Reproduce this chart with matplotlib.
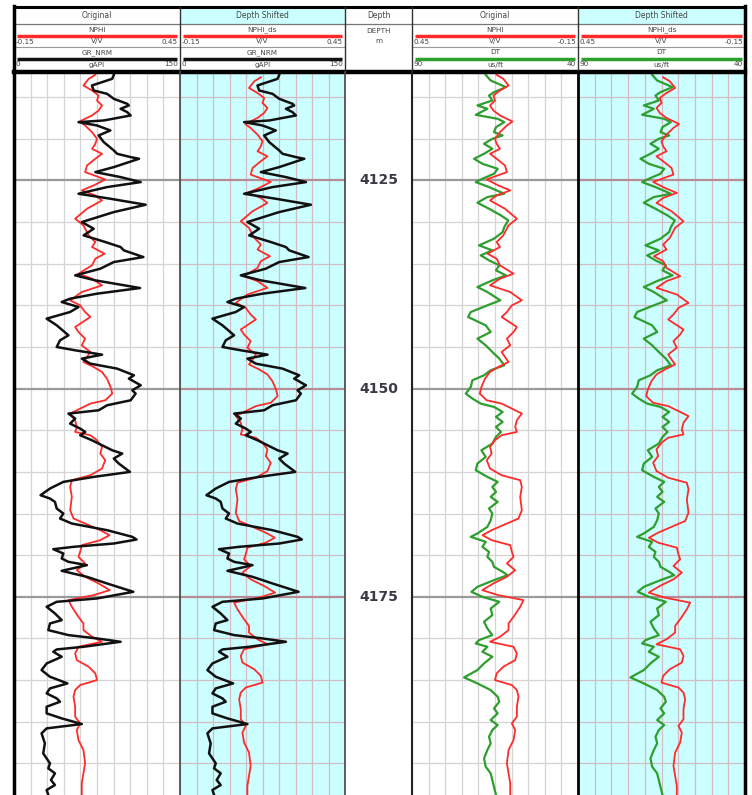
import matplotlib
matplotlib.use("Agg")
import matplotlib.pyplot as plt
from matplotlib.patches import Rectangle
import numpy as np

# Gamma ray (gAPI)
gr_depth = [4112.32, 4112.8, 4113.6, 4114.2, 4114.6, 4115.2, 4115.8, 4116.0, 4116.4, 4116.8,
            4117.2, 4117.8, 4118.0, 4118.4, 4119.0, 4119.6, 4120.4, 4121.4, 4121.8, 4122.2,
            4122.4, 4123.4, 4124.0, 4124.6, 4125.2, 4125.8, 4126.6, 4127.2, 4127.92, 4128.8,
            4130.0, 4130.8, 4131.6, 4132.4, 4133.0, 4133.4, 4134.2, 4134.8, 4135.6, 4136.4,
            4137.0, 4137.92, 4138.6, 4139.2, 4139.6, 4140.2, 4140.8, 4141.6, 4142.4, 4143.6,
            4144.2, 4145.0, 4145.4, 4145.92, 4146.4, 4147.0, 4147.6, 4148.4, 4148.8, 4149.6,
            4150.2, 4150.6, 4151.4, 4152.0, 4152.6, 4153.0, 4153.6, 4154.2, 4154.8, 4155.2,
            4155.6, 4156.2, 4156.8, 4157.4, 4157.8, 4158.4, 4159.0, 4160.0, 4160.6, 4161.2,
            4162.0, 4162.8, 4163.2, 4163.6, 4164.4, 4165.0, 4165.6, 4166.2, 4167.0, 4167.8,
            4168.12, 4168.6, 4169.0, 4169.28, 4169.8, 4170.4, 4170.8, 4171.2, 4171.88, 4172.6,
            4173.4, 4174.4, 4175.2, 4175.6, 4176.2, 4177.0, 4177.8, 4178.2, 4179.0, 4179.6,
            4180.0, 4180.4, 4181.0, 4181.32, 4181.6, 4182.2, 4183.0, 4183.8, 4184.6, 4185.4,
            4186.0, 4186.6, 4187.2, 4187.6, 4188.2, 4189.0, 4189.6, 4190.28, 4190.8, 4191.4,
            4192.6, 4193.8, 4195.0, 4195.6, 4196.2, 4197.0, 4197.6, 4198.2, 4198.8]
gr_value = [90.2, 88.7, 70.4, 72.0, 84.1, 90.2, 102.3, 103.8, 96.3, 102.3,
            105.4, 81.1, 58.3, 75.0, 87.1, 76.5, 81.1, 90.2, 93.2, 105.4,
            113.0, 90.2, 73.5, 96.3, 114.5, 84.1, 58.3, 87.1, 119.0, 90.2,
            61.3, 72.0, 62.9, 82.6, 96.3, 99.3, 116.9, 90.2, 78.0, 55.3,
            73.5, 113.9, 75.0, 50.7, 43.1, 58.3, 50.7, 29.5, 38.6, 49.2,
            41.6, 38.6, 55.3, 79.6, 61.3, 68.9, 93.2, 108.4, 103.8, 114.5,
            106.9, 109.9, 105.4, 84.1, 76.5, 49.2, 55.3, 50.7, 59.8, 64.4,
            59.8, 70.4, 79.6, 88.7, 97.8, 90.2, 94.7, 104.8, 72.0, 44.6,
            32.5, 24.0, 32.5, 37.0, 38.6, 44.6, 41.6, 52.2, 84.1, 106.9,
            110.8, 90.2, 53.7, 35.5, 44.6, 43.1, 49.2, 65.9, 43.1, 65.9,
            84.1, 107.8, 75.0, 38.6, 29.5, 37.0, 43.1, 32.5, 31.0, 49.2,
            75.0, 96.3, 62.9, 38.6, 35.5, 43.1, 29.5, 24.9, 32.5, 48.3,
            32.5, 29.5, 38.6, 41.6, 29.5, 29.5, 43.1, 61.3, 29.5, 24.9,
            27.9, 26.4, 32.5, 31.0, 37.0, 33.4, 37.0, 29.5, 31.0]

# Neutron porosity (v/v)
nphi_depth = [4112.32, 4112.8, 4113.6, 4114.2, 4114.8, 4115.4, 4116.0, 4116.6, 4117.2, 4117.92,
              4118.4, 4119.2, 4120.0, 4120.6, 4121.2, 4121.8, 4122.4, 4123.2, 4124.0, 4124.88,
              4125.6, 4126.2, 4126.8, 4127.4, 4128.4, 4129.6, 4130.4, 4131.6, 4132.4, 4133.0,
              4133.8, 4134.4, 4135.2, 4136.2, 4136.8, 4137.6, 4138.4, 4139.4, 4140.0, 4140.8,
              4141.4, 4142.6, 4143.2, 4144.0, 4144.8, 4145.6, 4146.2, 4146.8, 4147.4, 4148.0,
              4148.8, 4149.8, 4150.6, 4151.4, 4151.8, 4152.4, 4153.0, 4153.8, 4154.6, 4155.2,
              4155.6, 4156.2, 4157.0, 4157.8, 4158.6, 4159.6, 4160.4, 4161.0, 4161.8, 4163.0,
              4164.6, 4165.6, 4166.2, 4167.0, 4167.6, 4168.2, 4168.8, 4169.6, 4170.2, 4171.0,
              4171.8, 4172.6, 4173.4, 4174.2, 4174.8, 4175.4, 4176.2, 4177.4, 4178.2, 4179.0,
              4179.8, 4180.4, 4181.0, 4181.8, 4182.6, 4183.4, 4184.2, 4185.0, 4185.6, 4186.2,
              4187.0, 4188.2, 4189.4, 4190.2, 4191.0, 4192.2, 4193.4, 4195.0, 4196.2, 4197.4,
              4198.8]
nphi_value = [0.144, 0.120, 0.101, 0.132, 0.156, 0.150, 0.168, 0.156, 0.132, 0.087,
              0.107, 0.132, 0.150, 0.144, 0.132, 0.168, 0.144, 0.114, 0.107, 0.180,
              0.138, 0.095, 0.144, 0.168, 0.114, 0.071, 0.101, 0.120, 0.144, 0.132,
              0.177, 0.144, 0.132, 0.083, 0.132, 0.168, 0.095, 0.053, 0.089, 0.107,
              0.126, 0.071, 0.083, 0.107, 0.095, 0.126, 0.114, 0.101, 0.138, 0.168,
              0.186, 0.199, 0.205, 0.180, 0.126, 0.089, 0.053, 0.071, 0.077, 0.071,
              0.126, 0.150, 0.168, 0.162, 0.180, 0.168, 0.126, 0.059, 0.053, 0.059,
              0.053, 0.065, 0.107, 0.162, 0.195, 0.162, 0.095, 0.089, 0.083, 0.107,
              0.077, 0.107, 0.156, 0.196, 0.138, 0.047, 0.059, 0.083, 0.101, 0.101,
              0.132, 0.168, 0.083, 0.071, 0.077, 0.120, 0.144, 0.150, 0.089, 0.071,
              0.065, 0.071, 0.071, 0.089, 0.077, 0.083, 0.101, 0.107, 0.101, 0.095,
              0.095]
nphi_ds_shift = 0.3  # ft, bulk shift applied to NPHI_ds

# Sonic (us/ft)
dt_depth = [4112.32, 4113.0, 4113.8, 4114.4, 4114.8, 4115.4, 4116.0, 4116.4, 4117.12, 4117.6,
            4118.0, 4118.6, 4119.2, 4119.6, 4120.0, 4120.6, 4121.2, 4121.8, 4122.4, 4123.0,
            4123.6, 4124.2, 4124.8, 4125.2, 4125.8, 4126.6, 4127.0, 4127.68, 4128.4, 4129.2,
            4129.8, 4130.6, 4131.2, 4132.0, 4132.8, 4133.4, 4134.0, 4134.6, 4135.2, 4135.8,
            4136.4, 4137.0, 4137.8, 4138.4, 4139.4, 4140.0, 4140.8, 4141.4, 4142.4, 4143.2,
            4144.0, 4144.8, 4145.6, 4146.4, 4147.2, 4147.8, 4148.4, 4149.0, 4149.8, 4150.6,
            4151.2, 4151.8, 4152.2, 4152.8, 4153.4, 4154.0, 4154.6, 4155.2, 4155.8, 4156.6,
            4157.4, 4158.2, 4159.0, 4159.8, 4160.6, 4161.2, 4161.8, 4162.4, 4163.0, 4163.6,
            4164.4, 4165.0, 4165.8, 4166.6, 4167.4, 4167.8, 4168.4, 4169.0, 4169.6, 4170.2,
            4170.8, 4171.4, 4172.0, 4172.4, 4173.0, 4173.8, 4174.4, 4175.0, 4175.6, 4176.4,
            4177.2, 4178.0, 4178.8, 4179.6, 4180.2, 4180.6, 4181.0, 4181.6, 4182.2, 4183.0,
            4183.8, 4184.68, 4185.4, 4186.2, 4187.0, 4187.6, 4188.4, 4189.0, 4189.8, 4190.4,
            4191.0, 4191.8, 4192.6, 4193.4, 4194.4, 4195.4, 4196.2, 4197.0, 4197.8, 4198.8]
dt_value = [67.8, 66.3, 61.7, 65.3, 66.8, 65.8, 70.3, 67.3, 70.8, 64.2,
            62.2, 64.7, 65.3, 62.7, 65.8, 68.3, 65.8, 68.3, 71.3, 68.8,
            64.2, 65.3, 68.8, 70.8, 66.8, 62.2, 67.3, 70.3, 66.8, 63.2,
            61.0, 62.2, 62.7, 65.3, 69.8, 65.8, 69.3, 66.8, 63.7, 64.7,
            61.7, 65.8, 70.3, 67.3, 63.4, 67.3, 72.3, 73.1, 67.8, 66.3,
            70.3, 67.8, 65.8, 63.7, 62.2, 66.3, 68.3, 71.8, 72.3, 73.8,
            71.8, 69.3, 65.3, 62.7, 64.7, 62.7, 64.7, 63.2, 64.7, 65.8,
            69.1, 67.8, 70.3, 70.8, 67.3, 64.2, 65.8, 64.7, 66.3, 64.2,
            66.8, 65.8, 66.3, 67.3, 70.3, 72.3, 67.8, 68.8, 66.8, 67.3,
            65.8, 65.3, 62.7, 61.2, 65.3, 70.3, 72.1, 68.8, 63.7, 66.3,
            65.8, 68.3, 67.3, 65.8, 69.8, 70.8, 67.3, 68.8, 65.8, 68.3,
            70.3, 74.3, 70.3, 66.3, 64.2, 63.7, 65.3, 64.2, 66.3, 64.2,
            65.8, 66.8, 66.3, 67.3, 68.3, 67.8, 66.3, 65.8, 65.3, 64.7]

depth_labels = [4125, 4150, 4175]

W, H = 752, 795
fig = plt.figure(figsize=(W / 100, H / 100), dpi=100)
fig.patch.set_facecolor("white")

x_edges = [14, 180, 345, 412, 578, 745]
data_top_px = 73
top_depth, bottom_depth = 4112.1, 4198.8
cyan = "#ccffff"
red = "#ff2a2a"
green = "#2e9e2e"


def track_axes(x0, x1, bg, minor_c, major_c):
    ax = fig.add_axes([x0 / W, 0, (x1 - x0) / W, (H - data_top_px) / H])
    ax.set_facecolor(bg)
    ax.set_xlim(0, 10)
    ax.set_ylim(bottom_depth, top_depth)
    ax.set_xticks(range(11))
    ax.set_yticks([4125, 4150, 4175])
    ax.set_yticks(np.arange(4115, 4200, 5), minor=True)
    ax.grid(axis="x", which="major", color=minor_c, lw=0.9)
    ax.grid(axis="y", which="minor", color=minor_c, lw=0.9)
    ax.grid(axis="y", which="major", color=major_c, lw=1.6)
    ax.tick_params(which="both", length=0, labelbottom=False, labelleft=False)
    for s in ax.spines.values():
        s.set_visible(False)
    return ax


def add_curve(ax, depth, value, lo, hi, color, lw):
    tw = ax.twiny()
    tw.set_xlim(lo, hi)
    tw.set_ylim(bottom_depth, top_depth)
    tw.axis("off")
    tw.plot(value, depth, color=color, lw=lw, solid_joinstyle="round")
    return tw


gray_min, gray_maj = "#d4d4d4", "#9a9a9a"
pink_min, pink_maj = "#d2bcc4", "#b88c96"

ax1 = track_axes(x_edges[0], x_edges[1], "white", gray_min, gray_maj)
ax2 = track_axes(x_edges[1], x_edges[2], cyan, pink_min, pink_maj)
ax4 = track_axes(x_edges[3], x_edges[4], "white", gray_min, gray_maj)
ax5 = track_axes(x_edges[4], x_edges[5], cyan, pink_min, pink_maj)

nphi_ds_depth = [d + nphi_ds_shift for d in nphi_depth]

add_curve(ax1, nphi_depth, nphi_value, -0.15, 0.45, red, 1.3)
add_curve(ax1, gr_depth, gr_value, 0, 150, "#111111", 1.8)
add_curve(ax2, nphi_ds_depth, nphi_value, -0.15, 0.45, red, 1.3)
add_curve(ax2, gr_depth, gr_value, 0, 150, "#111111", 1.8)
add_curve(ax4, dt_depth, dt_value, 90, 40, green, 1.6)
add_curve(ax4, nphi_depth, nphi_value, 0.45, -0.15, red, 1.3)
add_curve(ax5, dt_depth, dt_value, 90, 40, green, 1.6)
add_curve(ax5, nphi_ds_depth, nphi_value, 0.45, -0.15, red, 1.3)

# depth track
axd = fig.add_axes([x_edges[2] / W, 0, (x_edges[3] - x_edges[2]) / W, (H - data_top_px) / H])
axd.set_ylim(bottom_depth, top_depth)
axd.set_xlim(0, 1)
axd.axis("off")
for d in depth_labels:
    axd.text(0.5, d, str(d), ha="center", va="center", fontsize=10,
             fontweight="bold", color="#3a3a48")

# header and track frames
hd = fig.add_axes([0, 0, 1, 1], zorder=10)
hd.set_xlim(0, W)
hd.set_ylim(H, 0)
hd.axis("off")
hd.patch.set_alpha(0)

titles = ["Original", "Depth Shifted", "Depth", "Original", "Depth Shifted"]
title_bg = ["white", cyan, "white", "white", cyan]
for i, t in enumerate(titles):
    x0, x1 = x_edges[i], x_edges[i + 1]
    hd.add_patch(Rectangle((x0, 7), x1 - x0, 17, facecolor=title_bg[i], edgecolor="none"))
    hd.text((x0 + x1) / 2, 15.8, t, ha="center", va="center", fontsize=5.5, color="#444444")

txt = dict(fontsize=5.2, color="#444444", va="center")
curve_rows = {
    0: [("NPHI", red, "-0.15", "V/V", "0.45"), ("GR_NRM", "#111111", "0", "gAPI", "150")],
    1: [("NPHI_ds", red, "-0.15", "V/V", "0.45"), ("GR_NRM", "#111111", "0", "gAPI", "150")],
    3: [("NPHI", red, "0.45", "V/V", "-0.15"), ("DT", green, "90", "us/ft", "40")],
    4: [("NPHI_ds", red, "0.45", "V/V", "-0.15"), ("DT", green, "90", "us/ft", "40")],
}
for i, rows in curve_rows.items():
    x0, x1 = x_edges[i], x_edges[i + 1]
    xm = (x0 + x1) / 2
    for j, (name, col, lo, unit, hi) in enumerate(rows):
        y0 = 29.5 + j * 23
        hd.text(xm, y0, name, ha="center", **txt)
        hd.plot([x0 + 3, x1 - 3], [y0 + 6, y0 + 6], color=col, lw=2.5, solid_capstyle="butt")
        hd.text(x0 + 2, y0 + 12, lo, ha="left", **txt)
        hd.text(xm, y0 + 12, unit, ha="center", **txt)
        hd.text(x1 - 2, y0 + 12, hi, ha="right", **txt)
    hd.plot([x0, x1], [46.5, 46.5], color="#999999", lw=0.8)

xm = (x_edges[2] + x_edges[3]) / 2
hd.text(xm, 31, "DEPTH", ha="center", **txt)
hd.text(xm, 41, "m", ha="center", **txt)

hd.plot([x_edges[0], x_edges[-1]], [24, 24], color="#777777", lw=0.9)
hd.plot([x_edges[0], x_edges[-1]], [7, 7], color="black", lw=2.2)
hd.plot([x_edges[0], x_edges[-1]], [71.5, 71.5], color="black", lw=3.2)

for x in x_edges[1:-1]:
    hd.plot([x, x], [7, 72], color="#333333", lw=1.0)
hd.plot([x_edges[0], x_edges[0]], [6, H], color="black", lw=2.5)
hd.plot([x_edges[-1], x_edges[-1]], [6, H], color="black", lw=2.5)
hd.plot([x_edges[1], x_edges[1]], [72, H], color="#444444", lw=1.2)
hd.plot([x_edges[2], x_edges[2]], [72, H], color="#444444", lw=1.2)
hd.plot([x_edges[3], x_edges[3]], [72, H], color="#222222", lw=1.5)
hd.plot([x_edges[4], x_edges[4]], [72, H], color="black", lw=2.0)

fig.savefig("out.png", dpi=100)
